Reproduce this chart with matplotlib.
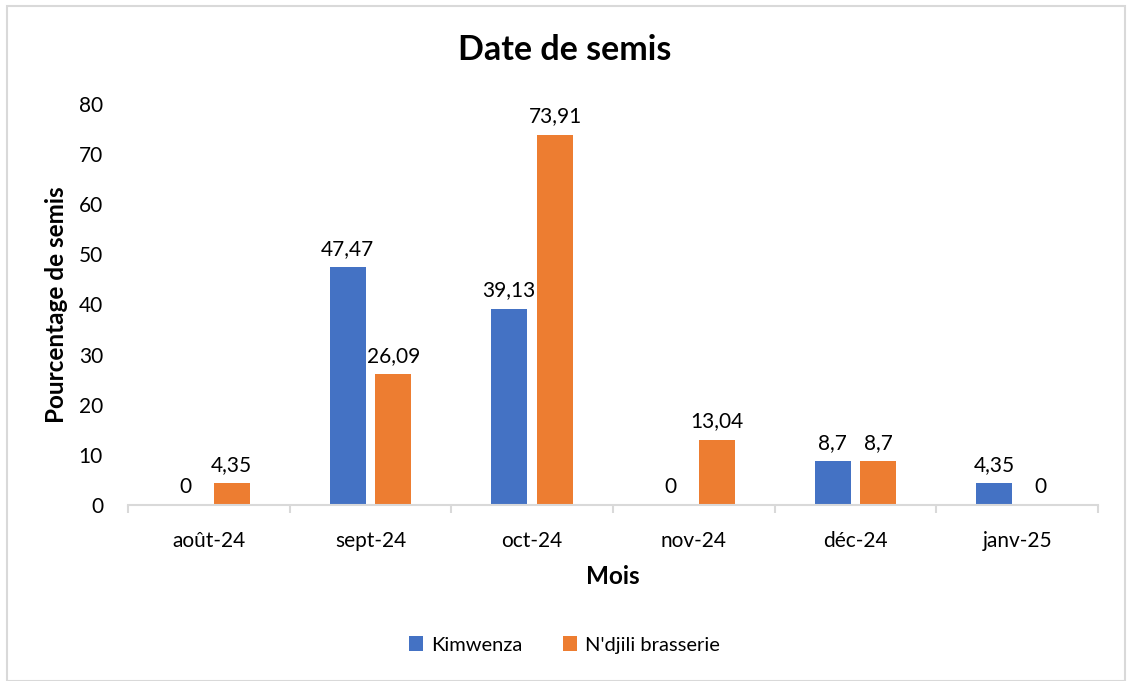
import matplotlib
matplotlib.use("Agg")
import matplotlib.pyplot as plt
from matplotlib.patches import Rectangle
import numpy as np

months = ["août-24", "sept-24", "oct-24", "nov-24", "déc-24", "janv-25"]
kimwenza = [0, 47.47, 39.13, 0, 8.7, 4.35]
ndjili = [4.35, 26.09, 73.91, 13.04, 8.7, 0]
series_names = ["Kimwenza", "N'djili brasserie"]
colors = ["#4472C4", "#ED7D31"]

plt.rcParams['font.family'] = ['Lato', 'DejaVu Sans']

fig = plt.figure(figsize=(11.29, 6.81), dpi=100)
ax = fig.add_axes([128/1129, 1-505/681, (1098-128)/1129, (505-104)/681])

x = np.arange(len(months))
w = 0.223
off = 0.142

def fmt(v):
    s = ("%.2f" % v).rstrip("0").rstrip(".")
    return s.replace(".", ",")

for vals, sign, col, name in [(kimwenza, -1, colors[0], series_names[0]),
                               (ndjili, 1, colors[1], series_names[1])]:
    ax.bar(x + sign*off, vals, width=w, color=col, label=name, zorder=2)
    for xi, v in zip(x + sign*off, vals):
        ax.annotate(fmt(v), (xi, v), xytext=(0, 6), textcoords="offset points",
                    ha="center", va="bottom", fontsize=15, color="#000000",
                    annotation_clip=False)

ax.set_xlim(-0.5, len(months)-0.5)
ax.set_ylim(0, 80)
ax.set_yticks(np.arange(0, 81, 10))
ax.set_xticks(x)
ax.set_xticklabels(months)
ax.set_xticks(np.arange(-0.5, len(months), 1), minor=True)
ax.tick_params(axis="x", which="major", length=0, pad=19, labelsize=15)
ax.tick_params(axis="x", which="minor", length=6, color="#d9d9d9", width=1.5)
ax.tick_params(axis="y", length=0, pad=18, labelsize=15)
for s in ["top", "right", "left"]:
    ax.spines[s].set_visible(False)
ax.spines["bottom"].set_color("#d9d9d9")
ax.spines["bottom"].set_linewidth(1.5)

ax.set_xlabel("Mois", fontsize=17.5, fontweight="bold", labelpad=10)
ax.set_ylabel("Pourcentage de semis", fontsize=17.5, fontweight="bold", labelpad=8)
fig.text(0.5, 1-50/681, "Date de semis", ha="center", va="center",
         fontsize=24.5, fontweight="bold")

fig.legend(loc="center", bbox_to_anchor=(0.5, 1-645/681), ncol=2,
           frameon=False, fontsize=14.5, handlelength=0.7, handleheight=0.7,
           columnspacing=2.0, handletextpad=0.4)

fig.patches.append(Rectangle((7/1129, 0), (1125-7)/1129, (681-6)/681,
                             transform=fig.transFigure, fill=False,
                             edgecolor="#d9d9d9", linewidth=1.5))

fig.savefig("out.png", dpi=100)
